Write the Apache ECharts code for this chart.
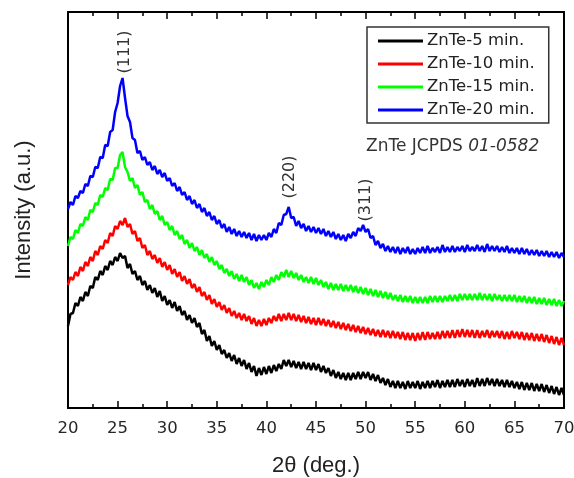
<!DOCTYPE html>
<html>
<head>
<meta charset="utf-8">
<script src="https://cdn.jsdelivr.net/npm/echarts@6/dist/echarts.min.js"></script>
<style>
html,body{margin:0;padding:0;background:#fff;}
#chart{width:574px;height:478px;}
</style>
</head>
<body>
<div id="chart"></div>
<script>
// 2θ sampling grid: 20° to 70°, every 0.25°
const angleStart = 20, angleStep = 0.25;
const xTicks = ['20','25','30','35','40','45','50','55','60','65','70'];
const seriesNames = ['ZnTe-5 min.','ZnTe-10 min.','ZnTe-15 min.','ZnTe-20 min.'];
const peakNames = ['(111)','(220)','(311)'];

// intensities (a.u., arbitrary offset units), one row per degree (x.00, x.25, x.50, x.75)
const znte5 = [
82,94,95,105, 102,111,107,116, 112,122,120,131, 128,137,133,142, 138,147,143,151,
147,155,150,152, 140,144,134,137, 128,132,123,127, 118,123,115,120, 111,117,107,112,
103,108,100,106, 97,102,93,97, 88,93,85,90, 81,85,74,78, 67,72,62,67,
58,63,54,58, 50,55,47,53, 44,50,42,48, 39,45,36,42, 32,40,33,41,
34,42,35,43, 37,44,39,48, 42,48,41,47, 40,46,39,46, 39,45,38,45,
38,44,36,42, 35,40,32,38, 30,36,29,35, 28,35,28,35, 29,36,29,36,
30,36,28,34, 27,33,25,30, 23,29,21,27, 20,27,20,26, 19,27,20,26,
20,27,19,26, 20,27,20,27, 21,28,20,27, 21,28,21,28, 21,29,22,28,
21,29,22,28, 21,30,22,29, 22,30,23,29, 22,29,22,28, 21,28,21,27,
20,26,19,26, 18,25,18,25, 17,24,17,24, 16,23,15,22, 14,21,13,20,
13];
const znte10 = [
123,131,128,136, 132,141,137,146, 142,151,147,157, 153,162,159,168, 165,175,172,182,
179,187,183,190, 181,184,174,177, 167,170,160,163, 153,157,149,153, 145,150,141,146,
138,143,134,139, 131,136,127,132, 124,129,120,124, 116,121,112,116, 108,113,104,109,
101,106,98,103, 95,100,92,97, 90,95,88,94, 87,92,84,90, 82,88,82,89,
83,90,85,92, 87,94,87,94, 88,95,88,94, 87,93,86,92, 85,91,84,90,
83,90,83,89, 82,88,81,87, 80,86,79,85, 78,84,77,83, 76,82,75,81,
74,80,73,79, 72,78,71,78, 71,77,70,77, 70,76,69,76, 68,75,68,75,
67,75,68,76, 68,76,69,75, 69,76,69,77, 70,77,70,78, 70,78,71,79,
71,78,71,78, 70,78,70,77, 71,78,70,77, 71,77,70,77, 69,76,69,77,
70,76,69,76, 68,75,68,75, 67,74,67,74, 66,73,65,72, 64,71,63,70,
63];
const znte15 = [
162,171,169,178, 175,184,182,191, 188,198,196,205, 203,213,211,220, 218,229,228,240,
240,253,256,241, 236,227,230,220, 223,213,216,206, 208,199,203,194, 197,188,192,183,
186,178,182,173, 177,169,173,164, 168,160,165,157, 161,153,158,150, 154,146,151,143,
147,139,143,135, 139,132,137,129, 134,127,133,126, 131,123,128,120, 125,119,126,121,
128,123,131,126, 133,128,136,131, 138,131,137,130, 135,128,133,126, 131,125,131,124,
130,123,128,121, 126,119,125,118, 124,118,124,117, 123,117,123,116, 122,115,121,114,
120,113,119,112, 118,111,117,110, 116,109,115,108, 113,107,113,106, 112,106,112,105,
111,105,111,105, 111,105,112,106, 112,106,112,106, 112,107,113,107, 113,107,114,108,
114,108,114,108, 114,108,115,108, 114,108,114,107, 114,108,113,107, 113,107,113,107,
113,106,112,106, 112,105,111,105, 111,104,110,104, 110,103,109,103, 109,102,108,102,
107];
const znte20 = [
199,206,203,212, 210,217,215,224, 222,232,231,241, 240,251,250,263, 262,276,278,296,
305,322,330,310, 292,286,270,268, 255,257,248,251, 243,246,238,242, 234,238,231,235,
227,230,222,225, 217,221,213,216, 208,212,204,208, 200,204,196,200, 192,196,188,192,
184,188,180,184, 176,181,174,179, 172,177,171,176, 170,175,168,174, 167,173,168,173,
168,175,171,179, 175,185,183,193, 194,201,190,191, 182,187,180,184, 177,182,176,181,
175,180,174,179, 172,177,171,176, 169,174,168,173, 167,174,170,176, 172,180,177,183,
176,179,170,172, 163,167,160,164, 157,162,156,161, 155,161,154,160, 155,161,154,159,
154,160,155,161, 155,162,155,160, 156,161,155,163, 156,161,156,162, 156,161,157,162,
156,163,157,161, 157,163,157,162, 156,164,157,162, 157,162,156,161, 156,162,155,160,
155,160,154,160, 154,159,153,158, 153,158,152,157, 152,157,151,156, 151,156,150,155,
151];

const seriesValues = [znte5, znte10, znte15, znte20];
const seriesColors = ['#000000','#ff0000','#00ff00','#0000ff'];

function pairs(vals){
  return vals.map((v,i)=>[angleStart + i*angleStep, v]);
}

const chart = echarts.init(document.getElementById('chart'), null, {renderer:'canvas'});
const smallFont = 'DejaVu Sans';
const bigFont = 'Liberation Sans';

const series = seriesValues.map((vals, k) => ({
  name: seriesNames[k],
  type: 'line',
  data: pairs(vals),
  showSymbol: false,
  symbol: 'none',
  lineStyle: {color: seriesColors[k], width: 2.5},
  itemStyle: {color: seriesColors[k]},
  animation: false,
  silent: true,
  z: 2 + k
}));

series[3].markPoint = {
  symbol: 'circle',
  symbolSize: 1,
  itemStyle: {color: 'rgba(0,0,0,0)'},
  silent: true,
  animation: false,
  label: {
    show: true, position: 'inside', rotate: 90, formatter: '{b}',
    color: '#333', fontSize: 16, fontFamily: smallFont
  },
  data: [
    {name: peakNames[0], coord: [25.75, 356]},
    {name: peakNames[1], coord: [42.4, 231]},
    {name: peakNames[2], coord: [50.0, 208]}
  ]
};

const xCommon = {
  type: 'value', min: 20, max: 70, interval: 5,
  splitLine: {show: false},
  axisLine: {show: true, onZero: false, lineStyle: {color: '#000', width: 2}},
  axisTick: {show: true, inside: true, length: 7, lineStyle: {color: '#000', width: 1.5}},
  minorTick: {show: true, splitNumber: 2, length: 4, lineStyle: {color: '#000', width: 1.5}}
};

chart.setOption({
  backgroundColor: '#fff',
  animation: false,
  grid: {left: 68, top: 12, width: 496, height: 396, containLabel: false, outerBoundsMode: 'none'},
  legend: {
    show: true,
    data: seriesNames,
    orient: 'vertical',
    left: 367, top: 27,
    padding: [4, 14, 3, 11],
    itemGap: 3,
    itemWidth: 45, itemHeight: 3,
    icon: 'rect',
    borderColor: '#333', borderWidth: 1.5,
    selectedMode: false,
    textStyle: {fontFamily: smallFont, fontSize: 16.5, color: '#222', lineHeight: 20, padding: [0,0,0,-1]}
  },
  xAxis: [
    Object.assign({}, xCommon, {
      position: 'bottom',
      name: '2θ (deg.)', nameLocation: 'middle', nameGap: 47,
      nameTextStyle: {fontFamily: bigFont, fontSize: 22, color: '#222'},
      axisLabel: {show: true, margin: 12, fontFamily: smallFont, fontSize: 16.5, color: '#262626',
        formatter: v => xTicks[xTicks.indexOf(String(v))] || ''}
    }),
    Object.assign({}, xCommon, {position: 'top', axisLabel: {show: false}})
  ],
  yAxis: [
    {
      type: 'value', min: 0, max: 396, position: 'left',
      name: 'Intensity (a.u.)', nameLocation: 'middle', nameGap: 33, nameRotate: 90,
      nameTextStyle: {fontFamily: bigFont, fontSize: 22, color: '#222'},
      splitLine: {show: false},
      axisLine: {show: true, onZero: false, lineStyle: {color: '#000', width: 2}},
      axisTick: {show: false}, axisLabel: {show: false}
    },
    {
      type: 'value', min: 0, max: 396, position: 'right',
      splitLine: {show: false},
      axisLine: {show: true, onZero: false, lineStyle: {color: '#000', width: 2}},
      axisTick: {show: false}, axisLabel: {show: false}
    }
  ],
  graphic: [{
    type: 'text', left: 366, top: 138, silent: true,
    style: {
      text: '{a|ZnTe JCPDS }{b|01-0582}',
      rich: {
        a: {fontFamily: smallFont, fontSize: 17, fill: '#333'},
        b: {fontFamily: smallFont, fontSize: 17, fill: '#333', fontStyle: 'italic'}
      }
    }
  }],
  series: series
});
</script>
</body>
</html>
